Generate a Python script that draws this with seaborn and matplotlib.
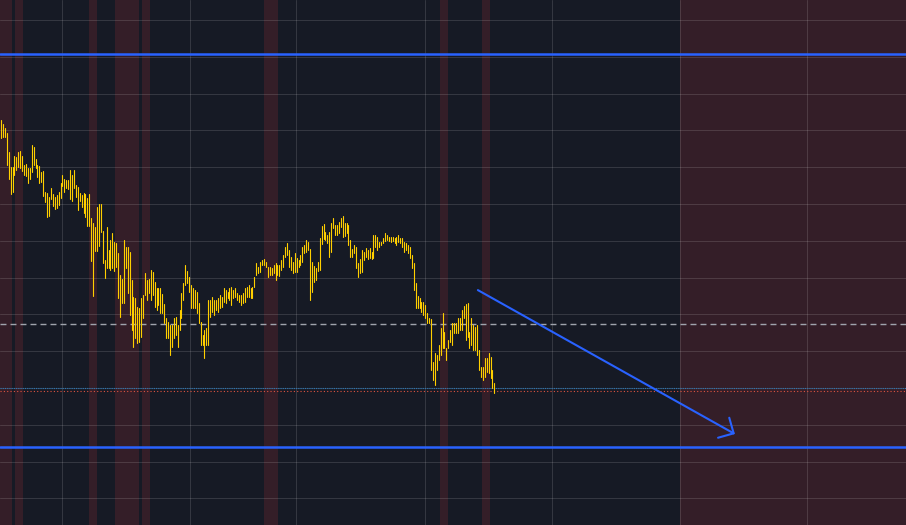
import numpy as np
import pandas as pd
import matplotlib
matplotlib.use("Agg")
import matplotlib.pyplot as plt
import seaborn as sns

# bar highs / lows (price units, grid every 10)
hi = [4602.8, 4601.7, 4600.6, 4599.3, 4594.1, 4590.0, 4590.0, 4593.0, 4592.7, 4594.1,
      4594.4, 4593.0, 4590.6, 4590.8, 4589.8, 4589.8, 4596.0, 4595.5, 4592.2,
      4590.6, 4590.3, 4588.7, 4588.9, 4583.3, 4583.0, 4581.9, 4584.3, 4582.7, 4581.9,
      4582.4, 4583.3, 4585.7, 4587.9, 4586.8, 4586.5, 4586.5, 4589.2,
      4587.9, 4589.2, 4585.1, 4584.6, 4583.0, 4582.4, 4583.0, 4582.7, 4581.6,
      4582.7, 4576.2, 4574.8, 4573.8, 4579.2, 4580.0, 4580.0, 4572.6, 4564.8, 4573.8,
      4567.5, 4570.2, 4572.1, 4569.7, 4569.4, 4566.7, 4560.7, 4559.6, 4570.2, 4568.3,
      4568.3, 4566.9, 4559.3, 4554.7, 4554.4, 4552.0, 4551.7, 4554.4, 4555.3, 4561.2,
      4559.3, 4559.6, 4562.1, 4561.5, 4558.8, 4557.2, 4557.2, 4557.2, 4555.5, 4552.8,
      4549.0, 4547.9, 4547.1, 4547.1, 4549.0, 4549.3, 4547.1, 4551.2, 4555.8,
      4558.5, 4563.4, 4561.8, 4560.1, 4558.0, 4557.2, 4556.6, 4556.1, 4553.1, 4547.9,
      4544.4, 4545.7, 4546.3, 4553.9, 4553.9, 4554.7, 4553.9, 4553.9, 4554.4,
      4555.3, 4554.7, 4557.2, 4556.6, 4556.1, 4557.2, 4557.4, 4556.6, 4557.2, 4555.8,
      4555.3, 4555.3, 4555.8, 4557.2, 4557.4, 4558.0, 4557.2, 4557.4, 4560.1, 4563.9,
      4562.9, 4564.2, 4564.8, 4565.0, 4564.2, 4562.9, 4562.9, 4562.6, 4563.4, 4563.9,
      4563.4, 4563.4, 4564.8, 4566.1, 4568.3, 4569.4, 4567.5, 4565.6, 4564.2, 4566.7,
      4565.3, 4564.8, 4566.1, 4568.3, 4568.8, 4570.2, 4569.7, 4567.8, 4564.2, 4563.1,
      4562.6, 4564.2, 4570.7, 4574.0, 4574.5, 4572.4, 4571.6, 4572.4, 4574.8, 4576.2,
      4574.3, 4574.3, 4575.1, 4576.2, 4576.7, 4574.8, 4574.8, 4574.3, 4570.2, 4567.8,
      4568.8, 4568.3, 4563.9, 4565.0, 4567.5, 4566.9, 4568.0, 4567.5, 4568.0, 4566.9,
      4571.6, 4571.6, 4571.0, 4569.7, 4569.7, 4570.7, 4572.1, 4571.6, 4571.0, 4571.0,
      4571.0, 4570.7, 4571.0, 4571.6, 4570.7, 4570.7, 4569.7, 4569.4, 4568.8, 4568.3,
      4566.1, 4563.9, 4558.5, 4555.0, 4554.4, 4553.4, 4553.4, 4552.5, 4550.4, 4549.0,
      4548.7, 4537.0, 4539.5, 4538.9, 4541.7, 4546.3, 4550.4, 4545.2, 4540.9, 4543.0,
      4545.7, 4547.6, 4547.6, 4547.6, 4549.0, 4549.0, 4551.2, 4552.3, 4552.8, 4553.1,
      4545.2, 4549.0, 4547.1, 4546.6, 4547.1, 4540.3, 4535.7, 4535.7, 4538.1, 4538.1,
      4539.5, 4538.4, 4534.9, 4531.3]
lo = [4597.9, 4598.2, 4598.2, 4590.6, 4586.8, 4582.7, 4583.3, 4587.9, 4589.2, 4590.0,
      4589.8, 4588.9, 4587.9, 4587.6, 4585.7, 4586.8, 4588.7, 4590.6, 4589.8,
      4587.3, 4585.7, 4586.0, 4582.2, 4580.5, 4576.4, 4576.7, 4581.4, 4579.5, 4578.6,
      4578.9, 4579.7, 4581.6, 4584.9, 4583.3, 4584.3, 4584.1, 4581.4,
      4580.8, 4584.3, 4581.9, 4578.4, 4580.8, 4579.2, 4577.5, 4576.4, 4574.0,
      4574.0, 4564.5, 4555.0, 4567.2, 4567.2, 4568.6, 4572.4, 4563.9, 4559.9, 4562.6,
      4562.6, 4562.1, 4562.6, 4561.8, 4562.9, 4554.4, 4549.3, 4553.1, 4553.1, 4562.6,
      4555.8, 4549.8, 4545.7, 4541.1, 4543.6, 4542.2, 4542.5, 4543.8, 4549.0, 4555.3,
      4553.9, 4555.8, 4553.9, 4555.3, 4552.0, 4551.2, 4552.5, 4550.4, 4550.4, 4547.6,
      4543.6, 4543.6, 4538.9, 4541.1, 4543.6, 4544.4, 4541.1, 4545.7, 4549.0,
      4553.9, 4558.0, 4558.5, 4556.1, 4551.7, 4551.7, 4551.7, 4550.4, 4547.6, 4541.7,
      4541.7, 4538.1, 4541.7, 4541.7, 4549.3, 4550.6, 4549.8, 4551.2, 4550.6,
      4551.7, 4552.0, 4553.4, 4553.1, 4554.4, 4553.9, 4552.5, 4554.4, 4554.7, 4553.9,
      4553.4, 4552.5, 4553.1, 4553.4, 4554.7, 4554.7, 4554.4, 4554.4, 4557.4, 4560.7,
      4561.2, 4561.5, 4563.4, 4563.4, 4562.9, 4560.1, 4560.7, 4560.7, 4561.2, 4559.3,
      4560.7, 4560.4, 4562.1, 4562.9, 4565.6, 4566.1, 4562.9, 4562.1, 4561.2, 4561.5,
      4561.5, 4562.9, 4563.4, 4564.2, 4566.7, 4566.9, 4567.5, 4553.9, 4556.1, 4558.8,
      4559.3, 4561.8, 4562.1, 4569.1, 4570.5, 4570.2, 4569.4, 4565.6, 4566.9, 4573.5,
      4571.6, 4571.6, 4572.1, 4573.8, 4571.0, 4571.3, 4572.1, 4568.8, 4565.6, 4565.6,
      4566.7, 4562.6, 4560.1, 4561.2, 4561.5, 4564.8, 4565.6, 4565.0, 4565.3, 4565.0,
      4565.3, 4568.3, 4567.5, 4568.3, 4568.8, 4569.4, 4569.9, 4570.2, 4569.9, 4569.7,
      4569.9, 4569.4, 4568.8, 4569.7, 4569.4, 4568.3, 4566.9, 4567.5, 4566.7, 4565.3,
      4562.6, 4556.6, 4551.7, 4551.7, 4551.7, 4550.6, 4549.8, 4549.0, 4547.6, 4547.6,
      4534.9, 4532.2, 4530.8, 4534.9, 4537.6, 4538.9, 4540.9, 4540.9, 4537.6, 4540.9,
      4542.5, 4541.7, 4544.9, 4544.9, 4544.9, 4545.7, 4545.7, 4549.0, 4543.0, 4543.8,
      4540.9, 4541.7, 4540.3, 4540.3, 4538.9, 4534.9, 4533.0, 4532.2, 4533.0, 4534.3,
      4534.1, 4532.7, 4530.0, 4528.6]

# horizontal levels
resistance = 4620.8
support = 4514.0
mid_level = 4547.4
last_blue = 4530.0
last_red = 4529.2

# shaded sessions (bar index ranges) and date grid
sessions = [(-0.6, 5.7), (7.3, 11.5), (45.8, 50.0), (59.4, 71.9), (73.4, 77.6),
            (137.0, 144.3), (228.6, 232.8), (250.5, 254.7), (353.6, 472.0)]
date_grid = [31.8, 98.4, 153.6, 220.8, 287.0, 353.6, 419.8]
price_grid = np.arange(4500, 4631, 10)

# projected move
arrow_from = (248.4, 4556.6)
arrow_to = (382.3, 4517.5)

BG = "#161a25"
sns.set_theme(style="darkgrid", rc={"axes.facecolor": BG, "figure.facecolor": BG,
                                    "grid.color": (1, 1, 1, 0.13), "grid.linewidth": 0.75})

n = len(hi)
bars = pd.DataFrame({
    "t": np.repeat(np.arange(n), 2),
    "price": np.column_stack([lo, hi]).ravel(),
    "bar": np.repeat(np.arange(n), 2),
})

fig = plt.figure(figsize=(9.06, 5.25), dpi=100)
ax = fig.add_axes([0, 0, 1, 1])

for a, b in sessions:
    ax.axvspan(a, b, color="#341e28", lw=0, zorder=0.5)

sns.lineplot(data=bars, x="t", y="price", units="bar", estimator=None,
             color="#ffcf00", linewidth=0.8, legend=False, ax=ax, zorder=3)

ax.axhline(resistance, color="#2962ff", lw=1.8, zorder=4)
ax.axhline(support, color="#2962ff", lw=1.8, zorder=4)
ax.axhline(mid_level, color="#a0a4ad", lw=1.0, ls=(0, (4.3, 2.9)), zorder=2.6)
ax.axhline(last_blue, color="#2a78b8", lw=0.8, ls=(0, (1, 1)), zorder=2.6)
ax.axhline(last_red, color="#e0533f", lw=0.8, ls=(0, (1, 2)), zorder=2.6)

ax.annotate("", xy=arrow_to, xytext=arrow_from,
            arrowprops=dict(arrowstyle="->,head_length=0.55,head_width=0.55",
                            color="#2962ff", lw=1.5, mutation_scale=15,
                            shrinkA=0, shrinkB=0), zorder=5)

ax.set_xlim(-0.52, 471.4)
ax.set_ylim(4492.8, 4635.4)
ax.set_xticks(date_grid)
ax.set_yticks(price_grid)
ax.set_axisbelow(False)
ax.grid(True)
ax.tick_params(length=0, labelbottom=False, labelleft=False)
ax.set_xlabel("")
ax.set_ylabel("")
for s in ax.spines.values():
    s.set_visible(False)

fig.savefig("out.png", dpi=100, facecolor=BG)
